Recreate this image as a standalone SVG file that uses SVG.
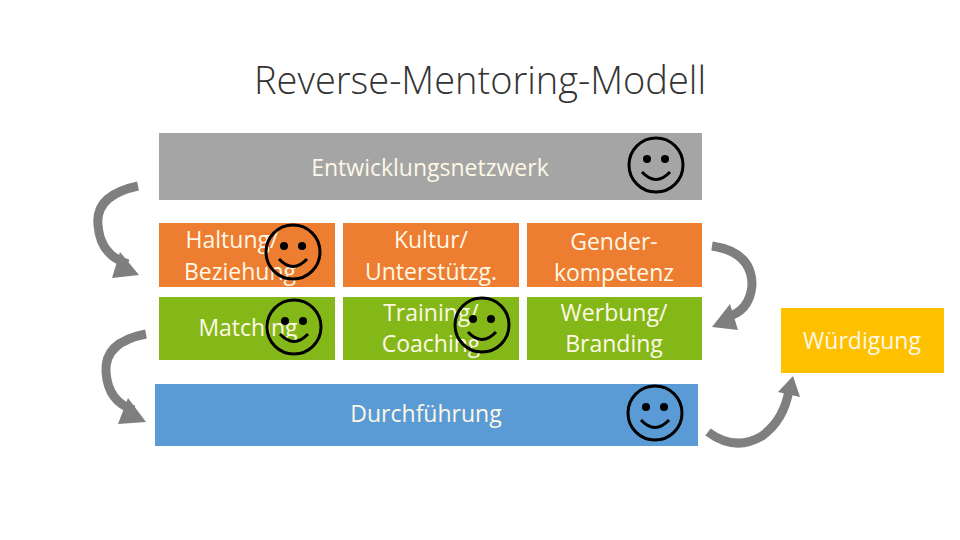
<svg xmlns="http://www.w3.org/2000/svg" width="960" height="540" viewBox="0 0 960 540">
<defs>
<style>
.t{font-family:"Open Sans","Liberation Sans",sans-serif;fill:#fdf8e6;font-size:23px;text-anchor:middle}
.o{fill:#ed7d31}.g{fill:#84b818}
.arr{fill:none;stroke:#7f7f7f;stroke-width:9}
.ah{fill:#7f7f7f}
.sm circle.f{fill:none;stroke:#000;stroke-width:3}
.sm circle.e{fill:#000}
.sm path{fill:none;stroke:#000;stroke-width:3}
</style>
<g id="smiley" class="sm"><circle class="f" r="27"/><circle class="e" cx="-9" cy="-6" r="4"/><circle class="e" cx="9" cy="-6" r="4"/><path d="M-14,7 Q0,22 14,7"/></g>
</defs>
<rect width="960" height="540" fill="#fff"/>
<text x="480" y="94" text-anchor="middle" font-family="Open Sans, Liberation Sans, sans-serif" font-size="38" fill="#333" font-weight="300">Reverse-Mentoring-Modell</text>
<g id="netzwerk"><rect x="159" y="133" width="543" height="67" fill="#a5a5a5"/><text class="t" x="430" y="176">Entwicklungsnetzwerk</text><use href="#smiley" x="656" y="165"/></g>
<g id="haltung"><rect class="o" x="159" y="223" width="176" height="64"/><text class="t" x="232" y="248">Haltung/</text><text class="t" x="240" y="280">Beziehung</text><use href="#smiley" x="293" y="252"/></g>
<g id="kultur"><rect class="o" x="343" y="223" width="176" height="64"/><text class="t" x="431" y="248">Kultur/</text><text class="t" x="431" y="280">Unterstützg.</text></g>
<g id="gender"><rect class="o" x="527" y="223" width="175" height="64"/><text class="t" x="614" y="250">Gender-</text><text class="t" x="614" y="281">kompetenz</text></g>
<g id="matching"><rect class="g" x="159" y="297" width="176" height="63"/><text class="t" x="248" y="336">Matching</text><use href="#smiley" x="294" y="327"/></g>
<g id="training"><rect class="g" x="343" y="297" width="176" height="63"/><text class="t" x="431" y="321">Training/</text><text class="t" x="431" y="352">Coaching</text><use href="#smiley" x="482" y="325"/></g>
<g id="werbung"><rect class="g" x="527" y="297" width="175" height="63"/><text class="t" x="614" y="321">Werbung/</text><text class="t" x="614" y="352">Branding</text></g>
<g id="durchfuehrung"><rect x="155" y="384" width="543" height="62" fill="#5b9bd5"/><text class="t" x="426" y="422">Durchführung</text><use href="#smiley" x="655" y="413"/></g>
<g id="wuerdigung"><rect x="781" y="308" width="163" height="65" fill="#ffc000"/><text class="t" x="862" y="349">Würdigung</text></g>
<g id="connectors">
<path class="arr" d="M138,186 Q95,195 98,225 Q100,255 128,264"/><polygon class="ah" points="120,252 139,275 112,278"/>
<path class="arr" d="M146,334 Q104,342 106,372 Q108,402 134,410"/><polygon class="ah" points="128,398 146,422 118,424"/>
<path class="arr" d="M712,246 Q752,252 752,285 Q750,312 724,318"/><polygon class="ah" points="730,304 712,327 738,330"/>
<path class="arr" d="M708,432 Q735,452 762,436 Q784,420 789,390"/><polygon class="ah" points="778,392 793,376 800,397"/>
</g>
</svg>
